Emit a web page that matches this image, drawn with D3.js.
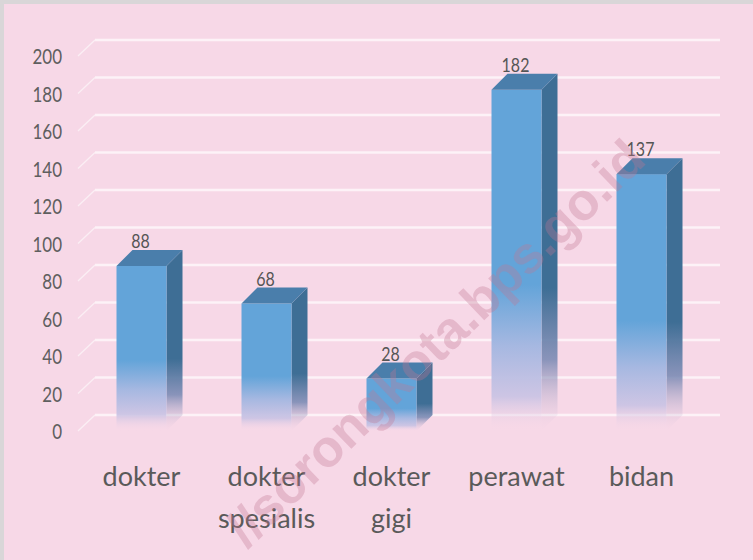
<!DOCTYPE html>
<html>
<head>
<meta charset="utf-8">
<script src="https://cdn.jsdelivr.net/npm/d3@7"></script>
<style>
html,body{margin:0;padding:0;background:#ffffff;}
svg{display:block;}
</style>
</head>
<body>
<svg id="chart" width="753" height="560"></svg>
<script>
// ---- data ----
const categories = ["dokter", "dokter spesialis", "dokter gigi", "perawat", "bidan"];
const categoryLines = [["dokter"], ["dokter", "spesialis"], ["dokter", "gigi"], ["perawat"], ["bidan"]];
const values = [88, 68, 28, 182, 137];
const yTicks = [0, 20, 40, 60, 80, 100, 120, 140, 160, 180, 200];
const watermark = "//sorongkota.bps.go.id";

const W = 753, H = 560;
const svg = d3.select("#chart");
const depthX = 16, depthY = 16;

// background
svg.append("rect").attr("x", 0).attr("y", 0).attr("width", W).attr("height", H).attr("fill", "#d9d6d8");
svg.append("rect").attr("x", 4).attr("y", 4).attr("width", W - 4).attr("height", H - 4).attr("fill", "#f7d8e7");

// scales
const yBack = d3.scaleLinear().domain([0, 200]).range([415, 40]);
const yFront = d3.scaleLinear().domain([0, 200]).range([415 + depthY, 40 + depthY]);
const x = d3.scaleBand().domain(categories).range([79, 704]).paddingInner(0.6).paddingOuter(0.3);

const defs = svg.append("defs");
function grad(id, stops) {
  const g = defs.append("linearGradient").attr("id", id).attr("x1", 0).attr("y1", 0).attr("x2", 0).attr("y2", 1);
  stops.forEach(s => g.append("stop").attr("offset", s[0]).attr("stop-color", s[1]).attr("stop-opacity", s[2]));
}
grad("gFront", [[0, "#63a4d9", 1], [0.57, "#63a4d9", 1], [0.75, "#a6b8e1", 1], [0.9, "#cbc4e4", 0.95], [1, "#f7d8e7", 0]]);
grad("gSide", [[0, "#3e6e95", 1], [0.6, "#3e6e95", 1], [0.8, "#7d8cb5", 0.9], [1, "#e8cde2", 0]]);

// gridlines (back wall + floor edge)
const grid = svg.append("g");
yTicks.forEach(t => {
  grid.append("line")
    .attr("x1", x.range()[0] + depthX).attr("x2", x.range()[1] + depthX)
    .attr("y1", yBack(t)).attr("y2", yBack(t))
    .attr("stroke", "#fdf2f7").attr("stroke-width", 2.5);
  grid.append("line")
    .attr("x1", x.range()[0] - 1).attr("x2", x.range()[0] + depthX)
    .attr("y1", yFront(t)).attr("y2", yBack(t))
    .attr("stroke", "#fbeef4").attr("stroke-width", 1.3);
});

// y tick labels
const sy = 1.2;
svg.append("g").selectAll("text").data(yTicks).join("text")
  .attr("transform", d => `translate(62,${yFront(d) + 3}) scale(1,${sy})`)
  .attr("text-anchor", "end").attr("dominant-baseline", "middle")
  .attr("font-family", "Lato, 'Open Sans', sans-serif").attr("font-size", 17)
  .attr("fill", "#5f5f5f").text(d => d);

// bars
const bars = svg.append("g").selectAll("g").data(values).join("g");
bars.each(function (v, i) {
  const g = d3.select(this);
  const c = categories[i];
  const x0 = x(c), x1 = x(c) + x.bandwidth();
  const yt = yFront(v), yb = yFront(0);
  g.append("polygon")
    .attr("points", [[x1, yt], [x1 + depthX, yt - depthY], [x1 + depthX, yb - depthY], [x1, yb]].join(" "))
    .attr("fill", "url(#gSide)");
  g.append("rect").attr("x", x0).attr("y", yt).attr("width", x1 - x0).attr("height", yb - yt)
    .attr("fill", "url(#gFront)");
  g.append("polygon")
    .attr("points", [[x0, yt], [x0 + depthX, yt - depthY], [x1 + depthX, yt - depthY], [x1, yt]].join(" "))
    .attr("fill", "#4a7eab");
  g.append("text")
    .attr("transform", `translate(${(x0 + x1) / 2 - 1},${yBack(v) - 2}) scale(1,${sy})`)
    .attr("text-anchor", "middle")
    .attr("font-family", "Lato, 'Open Sans', sans-serif").attr("font-size", 16)
    .attr("fill", "#555555").text(v);
});

// category labels
const cl = svg.append("g").selectAll("text").data(categories).join("text")
  .attr("text-anchor", "middle")
  .attr("font-family", "Lato, 'Open Sans', sans-serif").attr("font-size", 27)
  .attr("fill", "#5a5a5a");
cl.each(function (d, i) {
  const t = d3.select(this);
  categoryLines[i].forEach((ln, j) => {
    t.append("tspan").attr("x", x(d) + x.bandwidth() / 2).attr("y", 486 + j * 42).text(ln);
  });
});

// watermark
svg.append("text")
  .attr("transform", "translate(438,346) rotate(-44)")
  .attr("text-anchor", "middle").attr("dominant-baseline", "middle")
  .attr("font-family", "'Liberation Sans', Arial, sans-serif").attr("font-weight", "bold")
  .attr("font-size", 52).attr("fill", "#c27792").attr("fill-opacity", 0.33)
  .text(watermark);
</script>
</body>
</html>
